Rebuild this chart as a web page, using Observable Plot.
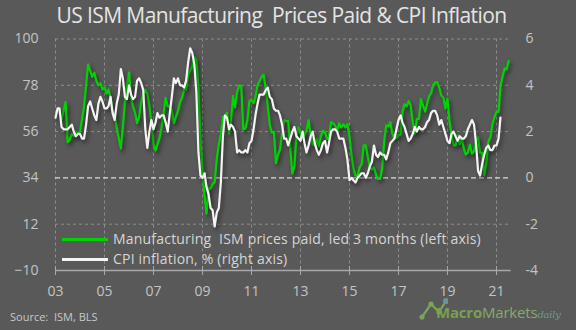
<!DOCTYPE html>
<html>
<head>
<meta charset="utf-8">
<script src="https://cdn.jsdelivr.net/npm/d3@7"></script>
<script src="https://cdn.jsdelivr.net/npm/@observablehq/plot@0.6"></script>
<style>
  html, body { margin: 0; padding: 0; background: #595959; }
  #wrap { position: relative; width: 576px; height: 330px; background: #595959; overflow: hidden; font-family: "Open Sans", sans-serif; }
  #title { position: absolute; left: 0; top: 0; width: 563px; height: 30px; line-height: 30px; text-align: center; font-size: 21px; color: #e4e4e4; white-space: pre; letter-spacing: -0.6px; }
  #chart { position: absolute; left: 0; top: 20px; }
  .leg { position: absolute; left: 62px; height: 14px; font-size: 14px; color: #d6d6d6; white-space: pre; letter-spacing: 0.2px; }
  .leg .sw { position: absolute; left: 0; top: 6px; width: 46px; height: 2.5px; }
  .leg .tx { position: absolute; left: 51px; top: -5px; line-height: 24px; }
  #source { position: absolute; left: 10px; top: 309px; font-size: 11px; color: #c8c8c8; white-space: pre; }
  #logo { position: absolute; left: 418px; top: 295px; width: 158px; height: 32px; }
  #logo .txt { position: absolute; left: 18px; top: 4px; font-size: 15px; line-height: 26px; white-space: pre; letter-spacing: -0.2px; }
  #logo .m1 { color: #78a050; font-weight: 700; }
  #logo .m2 { color: #88a86c; }
  #logo .d { color: #6a9a96; font-family: "DejaVu Serif", serif; font-style: italic; font-size: 10px; }
</style>
</head>
<body>
<div id="wrap">
  <div id="chart"></div>
  <div id="title">US ISM Manufacturing  Prices Paid &amp; CPI Inflation</div>
  <div class="leg" style="top:232px"><div class="sw" style="background:#00d400"></div><div class="tx">Manufacturing  ISM prices paid, led 3 months (left axis)</div></div>
  <div class="leg" style="top:252px"><div class="sw" style="background:#f4f4f4"></div><div class="tx">CPI inflation, % (right axis)</div></div>
  <div id="source">Source:  ISM, BLS</div>
  <div id="logo">
    <svg width="30" height="28" style="position:absolute;left:0;top:0">
      <polyline points="4,22 13,9 21,17 28,6" fill="none" stroke="#7aa456" stroke-width="2.2"/>
      <circle cx="4" cy="22" r="2.6" fill="#7aa456"/>
      <circle cx="13" cy="9" r="2.6" fill="#7aa456"/>
      <circle cx="21" cy="17" r="2.6" fill="#7aa456"/>
      <circle cx="28" cy="6" r="3" fill="#5f9a98"/>
    </svg>
    <div class="txt"><span class="m1">Macro</span><span class="m2">Markets</span><span class="d">daily</span></div>
  </div>
</div>
<script>
// CPI inflation, % y/y, monthly Jan 2003 - Mar 2021 (right axis)
const cpi = [
  2.6,3.0,3.0,2.2,2.1,2.1,2.1,2.2,2.3,2.0,1.8,1.9,
  1.9,1.7,1.7,2.3,3.1,3.3,3.0,2.7,2.5,3.2,3.5,3.3,
  3.0,3.0,3.1,3.5,2.8,2.5,3.2,3.6,4.7,4.3,3.5,3.4,
  4.0,3.6,3.4,3.5,4.2,4.3,4.1,3.8,2.1,1.3,2.0,2.5,
  2.1,2.4,2.8,2.6,2.7,2.7,2.4,2.0,2.8,3.5,4.3,4.1,
  4.3,4.0,4.0,3.9,4.2,5.0,5.6,5.4,4.9,3.7,1.1,0.1,
  0.0,0.2,-0.4,-0.7,-1.3,-1.4,-2.1,-1.5,-1.3,-0.2,1.8,2.7,
  2.6,2.1,2.3,2.2,2.0,1.1,1.2,1.1,1.1,1.2,1.1,1.5,
  1.6,2.1,2.7,3.2,3.6,3.6,3.6,3.8,3.9,3.5,3.4,3.0,
  2.9,2.9,2.7,2.3,1.7,1.7,1.4,1.7,2.0,2.2,1.8,1.7,
  1.6,2.0,1.5,1.1,1.4,1.8,2.0,1.5,1.2,1.0,1.2,1.5,
  1.6,1.1,1.5,2.0,2.1,2.1,2.0,1.7,1.7,1.7,1.3,0.8,
  -0.1,0.0,-0.1,-0.2,0.0,0.1,0.2,0.2,0.0,0.2,0.5,0.7,
  1.4,1.0,0.9,1.1,1.0,1.0,0.8,1.1,1.5,1.6,1.7,2.1,
  2.5,2.7,2.4,2.2,1.9,1.6,1.7,1.9,2.2,2.0,2.2,2.1,
  2.1,2.2,2.4,2.5,2.8,2.9,2.9,2.7,2.3,2.5,2.2,1.9,
  1.6,1.5,1.9,2.0,1.8,1.6,1.8,1.7,1.7,1.8,2.1,2.3,
  2.5,2.3,1.5,0.3,0.1,0.6,1.0,1.3,1.4,1.2,1.2,1.4,
  1.4,1.7,2.6
];
// ISM manufacturing prices paid, monthly Jan 2003 - Apr 2021 (left axis), plotted 3 months ahead
const ism = [
  62,66,70,51,52,55,54,56,55,56,62,68,
  78,88,85,82,84,80,78,79,76,77,74,76,
  72,66,64,58,53,48,58,70,78,84,72,68,
  65,60,63,70,74,76,74,68,60,50,47,50,
  53,58,65,72,68,68,66,60,63,66,70,72,
  76,76,83,85,87,91.5,90,77,53,37,25,17,
  29,29,31,32,43,50,55,63,63,65,55,61.5,
  73,67.5,75,78,77.5,57,57.5,61.5,70.5,71,69.5,72.5,
  78,80,82,83,76.5,68,59,55.5,56,41,45,47.5,
  55.5,61.5,61,61,47.5,36,39.5,54,58,55,52.5,54.5,
  56.5,61.5,54.5,50,49.5,52.5,49,54,56.5,55.5,52.5,53.5,
  60.5,60,59,56.5,60,58,59.5,58,59.5,53.5,44.5,38.5,
  35,35,39,40.5,49.5,49.5,44,39,38,39,35.5,33.5,
  33.5,38.5,51.5,59,58.5,60.5,55,53,53,54.5,54.5,65.5,
  69,68,70.5,68.5,60.5,55,62,62,71.5,68.5,65.5,69,
  72.7,74.2,78.1,79.3,79.5,76.8,73.2,72.1,66.9,71.6,60.7,54.9,
  49.6,49.4,54.3,50,53.2,47.9,45.1,46,49.7,45.5,46.7,51.7,
  53.3,45.9,45.9,35.3,40.8,51.3,53.2,59.5,62.8,65.5,65.4,77.6,
  82.1,86,85.6,89.6
];
const leadMonths = 3;
const leftTicks = [100, 78, 56, 34, 12, -10];
const gridYears = [2003, 2005, 2007, 2009, 2011, 2013, 2015, 2017, 2019, 2021];

// right axis: CPI % mapped onto the left (ISM) scale: left = 34 + 11 * cpi
const toLeft = c => 34 + 11 * c;
const toRight = v => (v - 34) / 11;

const cpiData = cpi.map((v, i) => ({date: new Date(Date.UTC(2003, i, 1)), value: toLeft(v)}));
const ismData = ism.map((v, i) => ({date: new Date(Date.UTC(2003, i + leadMonths, 1)), value: v}));
const gridDates = gridYears.map(y => new Date(Date.UTC(y, 0, 1)));

const shadow = "drop-shadow(2px 3px 2px rgba(0,0,0,0.5))";

const chart = Plot.plot({
  width: 576,
  height: 285,
  marginLeft: 55,
  marginRight: 65.3,
  marginTop: 18.5,
  marginBottom: 35,
  style: {background: "transparent", color: "#c4c4c4", fontFamily: "Open Sans, sans-serif", fontSize: "14px"},
  x: {type: "utc", domain: [new Date(Date.UTC(2003, 0, 1)), new Date(Date.UTC(2021, 7, 8))]},
  y: {domain: [-10, 100]},
  marks: [
    Plot.ruleX(gridDates, {stroke: "#8e8e8e", strokeDasharray: "3,3", strokeWidth: 1}),
    Plot.ruleY(leftTicks.filter(d => d !== 34 && d !== -10), {stroke: "#8e8e8e", strokeDasharray: "3,3", strokeWidth: 1}),
    Plot.ruleY([34], {stroke: "#dcdcdc", strokeDasharray: "5,3", strokeWidth: 1.3}),
    Plot.ruleY([-10], {stroke: "#a8a8a8", strokeWidth: 1.5}),
    Plot.lineY(ismData, {x: "date", y: "value", stroke: "#00d400", strokeWidth: 2.2, imageFilter: shadow}),
    Plot.lineY(cpiData, {x: "date", y: "value", stroke: "#f4f4f4", strokeWidth: 2.2, imageFilter: shadow}),
    Plot.axisX(gridDates, {label: null, tickSize: 9, dy: -4, tickPadding: 11, stroke: "#a8a8a8", fill: "#c4c4c4", tickFormat: d3.utcFormat("%y")}),
    Plot.axisY(leftTicks, {label: null, anchor: "left", tickSize: 0, tickPadding: 17, fill: "#c4c4c4"}),
    Plot.axisY(leftTicks, {label: null, anchor: "right", tickSize: 0, tickPadding: 14.3, fill: "#c4c4c4", tickFormat: d => String(toRight(d))})
  ]
});
document.getElementById("chart").appendChild(chart);
</script>
</body>
</html>
